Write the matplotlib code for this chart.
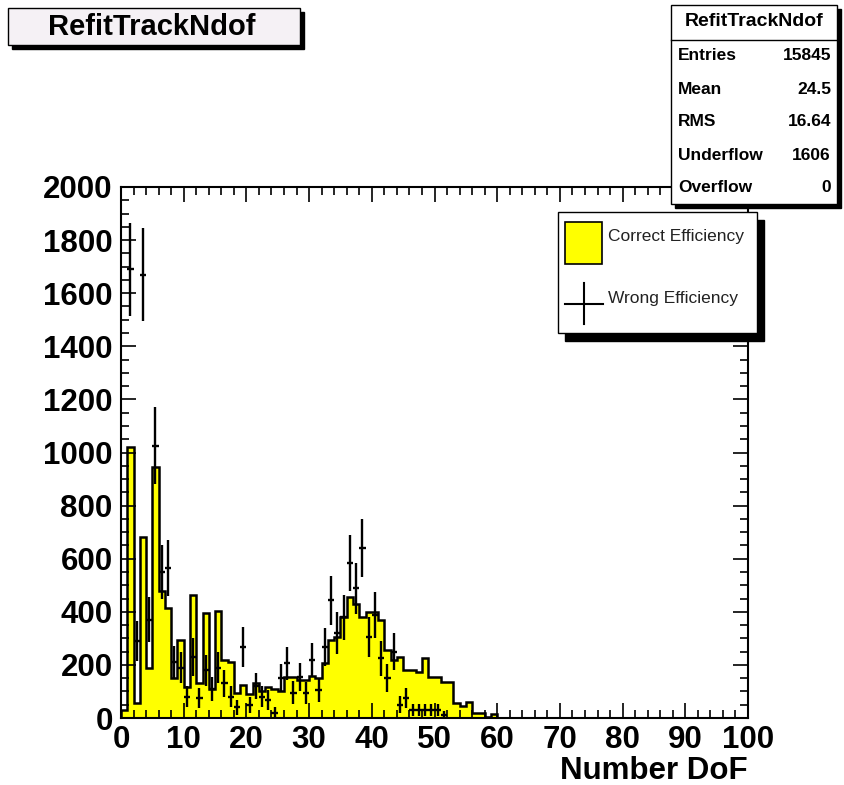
import numpy as np
import matplotlib
matplotlib.use("Agg")
import matplotlib.pyplot as plt
from matplotlib.patches import Rectangle
from matplotlib.ticker import MultipleLocator

plt.rcParams['font.family'] = ['Liberation Sans', 'DejaVu Sans']

# Correct efficiency: counts per unit bin, bins [0,1), [1,2), ... up to 60
correct_counts = [30, 1020, 55, 680, 190, 946, 480, 415, 150, 294,
                  118, 463, 130, 395, 110, 404, 218, 210, 94, 124,
                  90, 130, 100, 115, 110, 100, 155, 155, 145, 145,
                  160, 150, 207, 294, 306, 380, 455, 430, 380, 400,
                  400, 369, 256, 218, 231, 181, 181, 175, 225, 156,
                  156, 137, 137, 55, 45, 60, 18, 18, 5, 15]
correct_counts = correct_counts + [0] * (100 - len(correct_counts))
bin_edges = np.arange(0, 101, 1)

# Wrong efficiency: bin index, content and error
wrong_bins = [1, 2, 3, 4, 5, 6, 7, 8, 9, 10,
              11, 12, 13, 14, 15, 16, 17, 18, 19, 20,
              21, 22, 23, 24, 25, 26, 27, 28, 29, 30,
              31, 32, 33, 34, 35, 36, 37, 38, 39, 40,
              41, 42, 43, 44, 45, 46, 47, 48, 49, 50, 51]
wrong_counts = [1690, 290, 1670, 370, 1025, 550, 565, 210, 190, 80,
                230, 75, 180, 110, 190, 130, 80, 40, 268, 50,
                120, 80, 68, 20, 150, 207, 96, 155, 94, 218,
                105, 268, 444, 320, 380, 584, 489, 641, 306, 388,
                225, 150, 250, 50, 75, 30, 30, 30, 30, 30, 11]
wrong_errors = [175, 75, 175, 85, 145, 100, 105, 60, 60, 40,
                70, 38, 58, 45, 60, 50, 40, 28, 75, 30,
                48, 40, 36, 20, 53, 62, 43, 54, 42, 64,
                45, 71, 92, 78, 85, 105, 96, 110, 76, 86,
                65, 53, 69, 31, 38, 24, 24, 24, 24, 24, 15]

stats_labels = ['Entries', 'Mean', 'RMS', 'Underflow', 'Overflow']
stats_values = ['15845', '24.5', '16.64', '1606', '0']

W, H = 845, 785
fig = plt.figure(figsize=(W / 100, H / 100), dpi=100)
ax = fig.add_axes([121 / W, 1 - 718 / H, (748 - 121) / W, (718 - 187) / H])

ax.stairs(correct_counts, bin_edges, fill=True, facecolor='#ffff00', edgecolor='none')
ax.stairs(correct_counts, bin_edges, color='black', linewidth=1.8)

centers = np.array(wrong_bins) + 0.5
ax.errorbar(centers, wrong_counts, xerr=0.5, yerr=wrong_errors, fmt='none',
            ecolor='black', elinewidth=1.7, capsize=0)

ax.set_xlim(0, 100)
ax.set_ylim(0, 2000)
ax.xaxis.set_major_locator(MultipleLocator(10))
ax.xaxis.set_minor_locator(MultipleLocator(2))
ax.yaxis.set_major_locator(MultipleLocator(200))
ax.yaxis.set_minor_locator(MultipleLocator(50))
ax.tick_params(which='both', direction='in', top=True, right=True, width=1.2)
ax.tick_params(which='major', length=11)
ax.tick_params(which='minor', length=5.5)
ax.tick_params(axis='y', pad=6)
ax.tick_params(axis='x', pad=5)
for lbl in ax.get_xticklabels() + ax.get_yticklabels():
    lbl.set_fontsize(22.5)
    lbl.set_fontweight('bold')
for sp in ax.spines.values():
    sp.set_linewidth(1.5)

fig.text(748 / W, 1 - 771 / H, 'Number DoF', ha='right', va='center',
         fontsize=22.5, fontweight='bold')

# boxes drawn in pixel coordinates on top of everything
over = fig.add_axes([0, 0, 1, 1], zorder=5)
over.set_xlim(0, W)
over.set_ylim(H, 0)
over.axis('off')

# title box
over.add_patch(Rectangle((12, 12), 292, 37, facecolor='black', edgecolor='black'))
over.add_patch(Rectangle((8, 8), 292, 37, facecolor='#f5f1f5', edgecolor='black', linewidth=1))
over.text(152, 27, 'RefitTrackNdof', ha='center', va='center', fontsize=21, fontweight='bold')

# stats box
over.add_patch(Rectangle((675, 9), 166, 199, facecolor='black', edgecolor='black'))
over.add_patch(Rectangle((671, 5), 166, 199, facecolor='white', edgecolor='black', linewidth=1))
over.plot([671, 837], [40, 40], color='black', linewidth=1)
over.text(754, 22, 'RefitTrackNdof', ha='center', va='center', fontsize=14, fontweight='bold')
for i, (lab, val) in enumerate(zip(stats_labels, stats_values)):
    yy = 56 + i * 33
    over.text(678, yy, lab, ha='left', va='center', fontsize=12.5, fontweight='bold')
    over.text(831, yy, val, ha='right', va='center', fontsize=12.5, fontweight='bold')

# legend box
over.add_patch(Rectangle((565, 220), 199, 121, facecolor='black', edgecolor='black'))
over.add_patch(Rectangle((558, 212), 199, 121, facecolor='white', edgecolor='black', linewidth=1))
over.add_patch(Rectangle((565, 222), 37, 42, facecolor='#ffff00', edgecolor='black', linewidth=1.2))
over.text(608, 237, 'Correct Efficiency', ha='left', va='center', fontsize=12.5, color='#222222')
over.plot([565, 603], [304, 304], color='black', linewidth=1.5)
over.plot([584, 584], [283, 324], color='black', linewidth=1.5)
over.text(608, 298, 'Wrong Efficiency', ha='left', va='center', fontsize=12.5, color='#222222')

fig.savefig('out.png', dpi=100)
